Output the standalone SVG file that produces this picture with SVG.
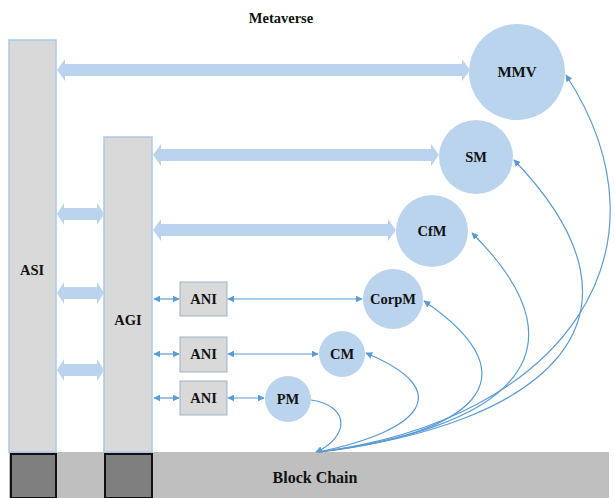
<svg xmlns="http://www.w3.org/2000/svg" width="615" height="498" viewBox="0 0 615 498">
<defs>
<style>
.lbl{font-family:"Liberation Serif","Times New Roman",serif;font-weight:bold;font-size:14.5px;fill:#111;text-anchor:middle;dominant-baseline:central}
.col{fill:#d9d9d9;stroke:#a9c8e8;stroke-width:1.5}
.ani{fill:#d9d9d9;stroke:#9fb3c8;stroke-width:1}
.circ{fill:#bad4ee}
.thick{fill:#bad4ee}
.thin{stroke:#5b9bd5;stroke-width:1.2;fill:none}
.dark{fill:#7f7f7f;stroke:#111;stroke-width:2}
</style>
<marker id="ah" viewBox="0 0 10 10" refX="9" refY="5" markerWidth="7" markerHeight="7" markerUnits="userSpaceOnUse" orient="auto-start-reverse">
<path d="M0,0 L10,5 L0,10 z" fill="#5b9bd5"/>
</marker>
</defs>
<rect width="615" height="498" fill="#fff"/>
<text class="lbl" x="281" y="18">Metaverse</text>

<g id="blockchain">
<rect x="9" y="452" width="600" height="46" fill="#bfbfbf"/>
<text class="lbl" x="315" y="477" style="font-size:16px">Block Chain</text>
</g>
<g id="ASI">
<rect class="col" x="9" y="40" width="47" height="412"/>
<rect class="dark" x="11" y="454" width="45" height="44"/>
<text class="lbl" x="32" y="270">ASI</text>
</g>
<g id="AGI">
<rect class="col" x="104" y="137" width="48" height="315"/>
<rect class="dark" x="105" y="454" width="47" height="44"/>
<text class="lbl" x="128" y="320">AGI</text>
</g>
<g id="ANI1"><rect class="ani" x="180" y="282" width="47" height="34"/><text class="lbl" x="203.5" y="299">ANI</text></g>
<g id="ANI2"><rect class="ani" x="180" y="337" width="47" height="35"/><text class="lbl" x="203.5" y="354">ANI</text></g>
<g id="ANI3"><rect class="ani" x="180" y="381" width="47" height="34"/><text class="lbl" x="203.5" y="398">ANI</text></g>

<g id="MMV"><circle class="circ" cx="517" cy="72" r="48"/><text class="lbl" x="517" y="72" style="font-size:15px">MMV</text></g>
<g id="SM"><circle class="circ" cx="476" cy="157" r="37"/><text class="lbl" x="476" y="157">SM</text></g>
<g id="CfM"><circle class="circ" cx="432" cy="231" r="36"/><text class="lbl" x="432" y="231">CfM</text></g>
<g id="CorpM"><circle class="circ" cx="393" cy="299" r="30"/><text class="lbl" x="393" y="299">CorpM</text></g>
<g id="CM"><circle class="circ" cx="342" cy="354" r="23"/><text class="lbl" x="342" y="354">CM</text></g>
<g id="PM"><circle class="circ" cx="288" cy="399" r="23"/><text class="lbl" x="288" y="399">PM</text></g>

<g id="connectors">
<polygon class="thick" points="57,70 65,59 65,64 462,64 462,59 470,70 462,81 462,76 65,76 65,81"/>
<polygon class="thick" points="153,155 161,144 161,149 431,149 431,144 439,155 431,166 431,161 161,161 161,166"/>
<polygon class="thick" points="153,230 161,219 161,224 388,224 388,219 396,230 388,241 388,236 161,236 161,241"/>
<polygon class="thick" points="57,214 64,203 64,208 97,208 97,203 104,214 97,225 97,220 64,220 64,225"/>
<polygon class="thick" points="57,293 64,282 64,287 97,287 97,282 104,293 97,304 97,299 64,299 64,304"/>
<polygon class="thick" points="57,370 64,359 64,364 97,364 97,359 104,370 97,381 97,376 64,376 64,381"/>

<line class="thin" x1="154" y1="299" x2="179" y2="299" marker-start="url(#ah)" marker-end="url(#ah)"/>
<line class="thin" x1="154" y1="354" x2="179" y2="354" marker-start="url(#ah)" marker-end="url(#ah)"/>
<line class="thin" x1="154" y1="398" x2="179" y2="398" marker-start="url(#ah)" marker-end="url(#ah)"/>
<line class="thin" x1="228" y1="299" x2="362" y2="299" marker-start="url(#ah)" marker-end="url(#ah)"/>
<line class="thin" x1="228" y1="354" x2="318" y2="354" marker-start="url(#ah)" marker-end="url(#ah)"/>
<line class="thin" x1="228" y1="398" x2="264" y2="398" marker-start="url(#ah)" marker-end="url(#ah)"/>

<path class="thin" d="M311,400 C352,406 348,438 316,452" marker-end="url(#ah)"/>
<path class="thin" d="M318,452 C425,430 455,390 366,353" marker-end="url(#ah)"/>
<path class="thin" d="M318,452 C470,435 540,380 424,301" marker-end="url(#ah)"/>
<path class="thin" d="M318,452 C495,430 600,360 472,233" marker-end="url(#ah)"/>
<path class="thin" d="M318,452 C545,425 668,320 514,160" marker-end="url(#ah)"/>
<path class="thin" d="M318,452 C565,420 680,250 566,75" marker-end="url(#ah)"/>
</g>
</svg>
